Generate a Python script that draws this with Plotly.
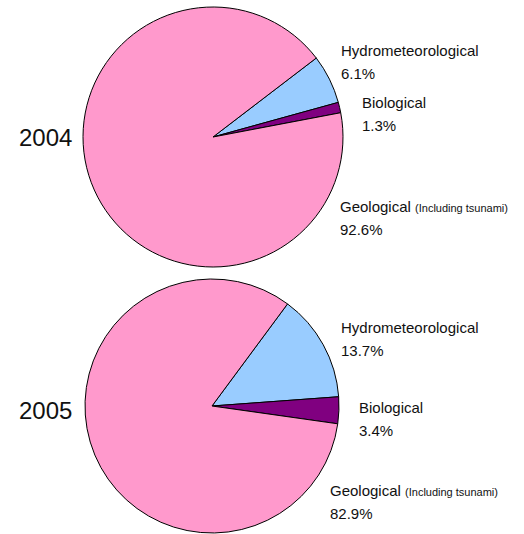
import plotly.graph_objects as go

# data
categories = ["Hydrometeorological", "Biological", "Geological"]
years = ["2004", "2005"]
values_2004 = [6.1, 1.3, 92.6]
values_2005 = [13.7, 3.4, 82.9]
colors = ["#99CCFF", "#800080", "#FF99CC"]

W, H = 524, 534
FONT = "Liberation Sans, Arial, sans-serif"


def px(x, y):
    return x / W, 1 - y / H


fig = go.Figure()

# pie domains (pixel boxes)
boxes = [(83, 7, 343, 267), (85, 279, 339, 533)]
rotations = [52.6, 36.5]

for vals, box, rot in zip([values_2004, values_2005], boxes, rotations):
    x0, y0 = px(box[0], box[3])
    x1, y1 = px(box[2], box[1])
    fig.add_trace(go.Pie(
        labels=categories, values=vals, sort=False, direction="clockwise",
        rotation=rot, marker=dict(colors=colors, line=dict(color="black", width=1)),
        textinfo="none", hoverinfo="label+percent", showlegend=False,
        domain=dict(x=[x0, x1], y=[max(y0, 0), y1]),
    ))

# label positions per pie: (x, y of first line) for each category
label_pos = [
    [(339, 50), (360, 102), (338, 206)],
    [(339, 327), (357, 407), (328, 490)],
]
year_pos = [(17, 137), (17, 410)]
line_gap = 23

for vals, pos, yr, ypos in zip([values_2004, values_2005], label_pos, years, year_pos):
    for cat, v, (x, y) in zip(categories, vals, pos):
        name = cat
        if cat == "Geological":
            name = cat + " <span style='font-size:11px'>(Including tsunami)</span>"
        ax, ay = px(x, y)
        fig.add_annotation(x=ax, y=ay, xref="paper", yref="paper", text=name,
                           showarrow=False, xanchor="left", yanchor="middle",
                           font=dict(size=15, color="#111111", family=FONT))
        ax, ay = px(x, y + line_gap)
        fig.add_annotation(x=ax, y=ay, xref="paper", yref="paper", text=f"{v}%",
                           showarrow=False, xanchor="left", yanchor="middle",
                           font=dict(size=15, color="#111111", family=FONT))
    ax, ay = px(*ypos)
    fig.add_annotation(x=ax, y=ay, xref="paper", yref="paper", text=yr,
                       showarrow=False, xanchor="left", yanchor="middle",
                       font=dict(size=24, color="#111111", family=FONT))

fig.update_layout(
    width=W, height=H, margin=dict(l=0, r=0, t=0, b=0),
    paper_bgcolor="white", plot_bgcolor="white",
)

fig.write_html("out.html", config={"displayModeBar": False},
               post_script="document.body.style.margin='0';")
